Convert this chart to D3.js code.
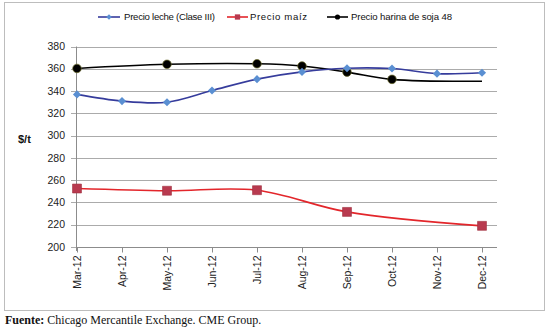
<!DOCTYPE html>
<html><head><meta charset="utf-8">
<script src="https://cdn.jsdelivr.net/npm/d3@7"></script>
<style>body{margin:0;background:#fff}svg{display:block}</style>
</head><body>
<svg id="c" width="550" height="329"></svg>
<script>
const categories = ["Mar-12","Apr-12","May-12","Jun-12","Jul-12","Aug-12","Sep-12","Oct-12","Nov-12","Dec-12"];
const leche = [337, 331, 330, 340.5, 350.7, 357.2, 360.5, 360.2, 355.6, 356.4];
const maiz  = [252.5, null, 250.5, null, 251, null, 231.5, null, null, 219];
const soja  = [360.3, null, 364, null, 364.5, 362.5, 357, 350.5, null, 348.8];
const sojaNoMarker = ["Dec-12"];
const yTicks = [200,220,240,260,280,300,320,340,360,380];
const seriesNames = ["Precio leche (Clase III)", "Precio maíz", "Precio harina de soja 48"];

const svg = d3.select("#c");
// frame
svg.append("rect").attr("x",4.5).attr("y",2.5).attr("width",540).attr("height",308)
  .attr("fill","#fff").attr("stroke","#bdbdbd").attr("stroke-width",1);

const x = d3.scalePoint().domain(categories).range([77,482]);
const y = d3.scaleLinear().domain([200,380]).range([247,46.5]);
const left = 76.5, right = 497;

// gridlines
svg.append("g").selectAll("line").data(yTicks).join("line")
  .attr("x1",71).attr("x2",right).attr("y1",d=>Math.round(y(d))+0.5).attr("y2",d=>Math.round(y(d))+0.5)
  .attr("stroke","#ababab").attr("stroke-width",1);
// y labels
svg.append("g").selectAll("text").data(yTicks).join("text")
  .attr("x",65).attr("y",d=>y(d)).attr("dy","0.35em").attr("text-anchor","end")
  .attr("font-family","Liberation Sans, Arial, sans-serif").attr("font-size",10.5).attr("fill","#222")
  .text(d=>d);
// y axis line
svg.append("line").attr("x1",left).attr("x2",left).attr("y1",y(380)).attr("y2",y(200)+4)
  .attr("stroke","#8c8c8c");
// x axis
const xa = svg.append("g").attr("transform",`translate(0,${Math.round(y(200))+0.5})`)
  .call(d3.axisBottom(x).tickSize(5).tickPadding(4));
xa.select(".domain").attr("stroke","#8c8c8c").attr("d",`M${left},0H${right}`);
xa.selectAll(".tick line").attr("stroke","#8c8c8c");
xa.selectAll(".tick text").attr("font-family","Liberation Sans, Arial, sans-serif").attr("font-size",10.5)
  .attr("fill","#222").attr("transform","rotate(-90)").attr("text-anchor","end")
  .attr("x",-8).attr("y",0).attr("dy","0.35em");

// $/t
svg.append("text").attr("x",18).attr("y",143).attr("font-family","Liberation Sans, Arial, sans-serif")
  .attr("font-size",11).attr("font-weight","bold").attr("fill","#111").text("$/t");

const curve = d3.curveCatmullRom.alpha(0.5);
function pts(vals){ return categories.map((c,i)=>({c,v:vals[i]})).filter(d=>d.v!=null); }
const line = d3.line().x(d=>x(d.c)).y(d=>y(d.v)).curve(curve);

// series
const cLeche="#363c9c", mLeche="#5a8fd2", cMaiz="#e3262b", mMaiz="#b83a4f", cSoja="#000";
svg.append("path").attr("d",line(pts(maiz))).attr("fill","none").attr("stroke",cMaiz).attr("stroke-width",1.6);
svg.append("path").attr("d",line(pts(soja))).attr("fill","none").attr("stroke",cSoja).attr("stroke-width",1.6);
svg.append("path").attr("d",line(pts(leche))).attr("fill","none").attr("stroke",cLeche).attr("stroke-width",1.6);

const diamond = d3.symbol().type(d3.symbolDiamond2).size(42);
const square = d3.symbol().type(d3.symbolSquare).size(80);
svg.append("g").selectAll("path").data(pts(maiz)).join("path")
  .attr("d",square).attr("transform",d=>`translate(${x(d.c)},${y(d.v)})`).attr("fill",mMaiz).attr("stroke","#a0303f").attr("stroke-width",0.6);
svg.append("g").selectAll("circle").data(pts(soja).filter(d=>!sojaNoMarker.includes(d.c))).join("circle")
  .attr("cx",d=>x(d.c)).attr("cy",d=>y(d.v)).attr("r",4.3).attr("fill","#000").attr("stroke","#6b6b2a").attr("stroke-width",0.7);
svg.append("g").selectAll("path").data(pts(leche)).join("path")
  .attr("d",diamond).attr("transform",d=>`translate(${x(d.c)},${y(d.v)})`).attr("fill",mLeche);

// legend
const lg = svg.append("g").attr("font-family","Liberation Sans, Arial, sans-serif").attr("font-size",9.6).attr("fill","#111");
const legendItems = [
  {name:seriesNames[0], x0:98, x1:120, col:cLeche, mk:"d", tx:124, tw:91},
  {name:seriesNames[1], x0:227, x1:248, col:cMaiz, mk:"s", tx:250, tw:57},
  {name:seriesNames[2], x0:327, x1:348, col:cSoja, mk:"c", tx:351, tw:101}
];
const ly = 17;
legendItems.forEach(it=>{
  lg.append("line").attr("x1",it.x0).attr("x2",it.x1).attr("y1",ly).attr("y2",ly).attr("stroke",it.col).attr("stroke-width",1.6);
  const mx=(it.x0+it.x1)/2;
  if(it.mk==="d") lg.append("path").attr("d",d3.symbol().type(d3.symbolDiamond2).size(20)).attr("transform",`translate(${mx},${ly})`).attr("fill",mLeche);
  if(it.mk==="s") lg.append("path").attr("d",d3.symbol().type(d3.symbolSquare).size(28)).attr("transform",`translate(${mx},${ly})`).attr("fill",mMaiz);
  if(it.mk==="c") lg.append("circle").attr("cx",mx).attr("cy",ly).attr("r",2.6).attr("fill","#000");
  lg.append("text").attr("x",it.tx).attr("y",ly).attr("dy","0.35em").attr("textLength",it.tw).attr("lengthAdjust","spacing").text(it.name);
});

// footer
const ft = svg.append("text").attr("x",5).attr("y",324).attr("font-family","Liberation Serif, Times New Roman, serif").attr("font-size",12).attr("fill","#111");
ft.append("tspan").attr("font-weight","bold").text("Fuente:");
ft.append("tspan").text(" Chicago Mercantile Exchange. CME Group.");
</script>
</body></html>
